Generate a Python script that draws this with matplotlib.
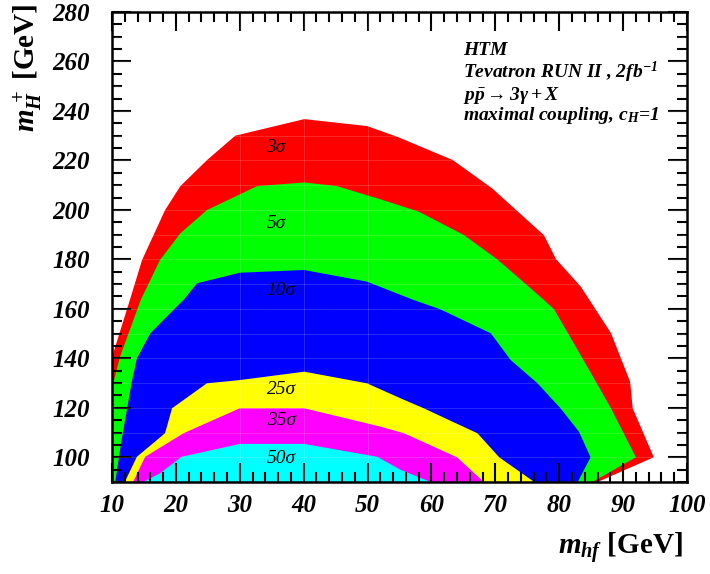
import numpy as np
import matplotlib
matplotlib.use("Agg")
import matplotlib.pyplot as plt
from matplotlib.ticker import MultipleLocator
from matplotlib.font_manager import FontProperties

plt.rcParams['mathtext.fontset'] = 'custom'
plt.rcParams['mathtext.it'] = 'Liberation Serif:bold:italic'
plt.rcParams['mathtext.rm'] = 'Liberation Serif:bold:italic'
plt.rcParams['mathtext.bf'] = 'Liberation Serif:bold'
plt.rcParams['mathtext.fallback'] = 'stix'

# ---- contour boundaries (m_hf [GeV], m_H+ [GeV]) ----
x_3sig = [9.0, 10.0, 12.8, 14.7, 18.3, 20.7, 24.9, 29.3, 40.1, 49.9, 54.6, 63.3, 69.5,
          77.6, 79.5, 83.4, 88.1, 91.1, 91.5, 94.8, 86.0]
y_3sig = [133.0, 140.5, 163.6, 179.7, 199.9, 209.6, 220.2, 230.0, 236.7, 233.9, 229.6, 220.2,
          208.7, 189.8, 180.1, 168.9, 150.2, 130.5, 119.8, 100.0, 90.0]

x_5sig = [9.0, 10.2, 11.25, 14.5, 17.5, 20.7, 24.85, 32.7, 40.1, 45.2, 52.0, 58.0, 65.1,
          70.3, 74.5, 77.6, 79.2, 84.4, 88.1, 92.0, 85.2]
y_5sig = [124.0, 129.9, 140.6, 163.6, 179.7, 190.5, 199.9, 209.6, 211.1, 209.6, 204.3, 199.3,
          189.8, 180.0, 170.6, 163.6, 159.8, 136.6, 119.8, 100.0, 90.0]

x_10sig = [10.5, 11.5, 13.1, 13.9, 16.0, 19.6, 21.2, 23.3, 30.0, 40.1, 49.9, 57.2, 61.4,
           69.3, 72.4, 76.6, 80.2, 83.1, 84.9, 82.9]
y_10sig = [90.0, 107.0, 130.5, 140.0, 150.1, 159.5, 163.6, 170.3, 174.6, 175.7, 171.0, 163.6,
           159.8, 150.1, 139.3, 129.9, 119.8, 110.3, 100.0, 90.0]

x_25sig = [12.0, 13.9, 18.3, 19.4, 24.85, 30.0, 40.1, 49.9, 55.2, 58.8, 67.2, 70.6, 76.1]
y_25sig = [90.0, 100.2, 109.7, 119.8, 129.9, 131.2, 134.6, 129.9, 123.8, 119.8, 109.7, 100.0, 90.0]

x_35sig = [13.3, 15.2, 21.2, 30.0, 40.1, 52.0, 55.7, 64.0, 68.2]
y_35sig = [90.0, 100.2, 109.7, 119.8, 119.8, 112.4, 109.7, 100.0, 90.0]

x_50sig = [14.9, 17.5, 20.9, 30.0, 40.1, 51.5, 55.2, 59.9]
y_50sig = [90.0, 93.5, 100.2, 105.4, 105.4, 100.2, 94.9, 90.0]

levels = ['3\u03c3', '5\u03c3', '10\u03c3', '25\u03c3', '35\u03c3', '50\u03c3']
colors = ['#ff0000', '#00ff00', '#0000ff', '#ffff00', '#ff00ff', '#00ffff']
label_x = [35.7, 35.7, 36.5, 36.5, 36.5, 36.5]
label_y = [225.4, 194.5, 167.6, 127.2, 115.0, 99.5]

xs = [x_3sig, x_5sig, x_10sig, x_25sig, x_35sig, x_50sig]
ys = [y_3sig, y_5sig, y_10sig, y_25sig, y_35sig, y_50sig]

fig = plt.figure(figsize=(7.10, 5.74), dpi=100)
ax = fig.add_axes([112/710, 1-482/574, (687-112)/710, (482-12)/574])

for x, y, c in zip(xs, ys, colors):
    px = np.concatenate([x, [x[-1], x[0]]])
    py = np.concatenate([y, [80.0, 80.0]])
    ax.fill(px, py, color=c, lw=0, zorder=2)

# faint tessellation lines visible inside the filled regions
for yy in range(100, 280, 10):
    ax.axhline(yy, color='white', lw=0.6, alpha=0.18, zorder=3)
for xx in (30, 40, 50):
    ax.axvline(xx, color='white', lw=0.6, alpha=0.18, zorder=3)

lab_font = FontProperties(family='Liberation Serif', style='italic', weight='normal', size=14)
for t, lx, ly in zip(levels, label_x, label_y):
    ax.text(lx, ly, t, fontproperties=lab_font, ha='center', va='center', zorder=5)

ax.set_xlim(10, 100)
ax.set_ylim(90, 280)
ax.xaxis.set_major_locator(MultipleLocator(10))
ax.xaxis.set_minor_locator(MultipleLocator(2))
ax.yaxis.set_major_locator(MultipleLocator(20))
ax.yaxis.set_minor_locator(MultipleLocator(5))
ax.tick_params(which='both', direction='in', top=True, right=True, width=1.5, color='black')
ax.tick_params(which='major', length=14)
ax.tick_params(which='minor', length=7)
ax.tick_params(axis='x', which='major', pad=8.5)
ax.tick_params(axis='y', which='major', pad=16)
for s in ax.spines.values():
    s.set_linewidth(1.8)
    s.set_zorder(6)
ax.set_axisbelow(False)

tick_font = FontProperties(family='Liberation Serif', style='italic', weight='bold', size=18)
for lab in ax.get_xticklabels() + ax.get_yticklabels():
    lab.set_fontproperties(tick_font)

axlab_font = FontProperties(family='Liberation Serif', weight='bold', size=21)
fig.text(620/710, 1-548/574, r'$m_{hf}$ [GeV]', fontproperties=axlab_font, ha='center', va='center')
fig.text(28/710, 1-68/574, r'$m_{H}^{\,+}$ [GeV]', fontproperties=axlab_font, ha='center', va='center', rotation=90)

ann_font = FontProperties(family='Liberation Serif', style='italic', weight='bold', size=14)
ann_lines = ['HTM', r'Tevatron RUN II , 2fb$^{-1}$', r'$p\bar{p}\rightarrow 3\gamma + X$',
             r'maximal coupling, c$_{H}$=1']
ann_y = [262.6, 253.3, 244.4, 236.3]
for t, yy in zip(ann_lines, ann_y):
    ax.text(64.9, yy, t, fontproperties=ann_font, ha='left', va='baseline', zorder=5)

fig.savefig('out.png', dpi=100)
